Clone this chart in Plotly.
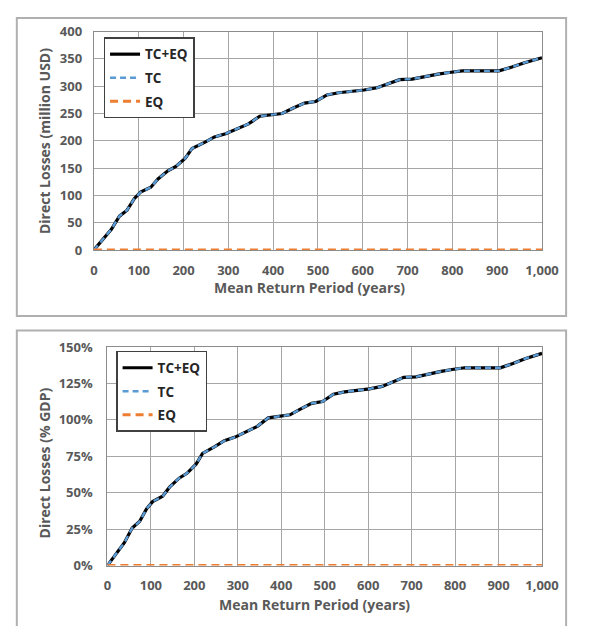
import plotly.graph_objects as go

# return periods (years)
periodo = [0, 20, 39, 57, 74, 90, 104, 127, 143, 165, 183, 204, 219, 247, 269, 294,
           322, 345, 370, 395, 420, 445, 470, 495, 520, 546, 574, 603, 632, 657,
           682, 710, 739, 768, 793, 822, 850, 875, 904, 933, 961, 1000]

# direct losses, million USD
perdas_usd = [0, 20, 38, 62, 73, 94, 106, 115, 130, 145, 153, 168, 186, 197, 207, 213,
              223, 231, 245, 248, 250, 260, 269, 272, 284, 288, 290, 293, 297, 305,
              312, 313, 318, 322, 325, 328, 328, 328, 328, 335, 343, 352]

# direct losses, % of GDP
perdas_pib = [0, 8.3, 15.7, 25.7, 30.2, 38.9, 43.9, 47.6, 53.8, 60, 63.3, 69.6, 77, 81.6,
              85.7, 88.2, 92.3, 95.6, 101.4, 102.7, 103.5, 107.6, 111.4, 112.6, 117.6,
              119.2, 120.1, 121.3, 123, 126.3, 129.2, 129.6, 131.7, 133.3, 134.6, 135.8,
              135.8, 135.8, 135.8, 138.7, 142, 145.7]

# EQ contributes nothing at any return period
eq_usd = [0] * len(periodo)
eq_pib = [0] * len(periodo)

# the page body keeps its 8px margin, so the figure is 16px smaller than the window
OFF = 8
W, H = 594 - 2 * OFF, 634 - 2 * OFF
CINZA_TXT = "#595959"
GRADE = "#a6a6a6"
FONTE = "Open Sans, sans-serif"


def px(x):
    return (x - OFF) / W


def py(y):
    return 1 - (y - OFF) / H


def series(x, total, tc, eq, xa, ya, leg):
    return [
        go.Scatter(x=x, y=total, name="TC+EQ", mode="lines", xaxis=xa, yaxis=ya,
                   legend=leg, legendgroup="a" + leg,
                   line=dict(color="black", width=3.2)),
        go.Scatter(x=x, y=tc, name="TC", mode="lines", xaxis=xa, yaxis=ya,
                   legend=leg, legendgroup="b" + leg,
                   line=dict(color="#5b9bd5", width=2.4, dash="6px,4px")),
        go.Scatter(x=x, y=eq, name="EQ", mode="lines", xaxis=xa, yaxis=ya,
                   legend=leg, legendgroup="c" + leg,
                   line=dict(color="#ed7d31", width=3, dash="8px,5px")),
    ]


fig = go.Figure()
for t in series(periodo, perdas_usd, perdas_usd, eq_usd, "x", "y", "legend"):
    fig.add_trace(t)
for t in series(periodo, perdas_pib, perdas_pib, eq_pib, "x2", "y2", "legend2"):
    fig.add_trace(t)

_TICK = dict(family=FONTE, size=13, color=CINZA_TXT, weight="bold")
_AX = dict(showgrid=True, gridcolor=GRADE, gridwidth=1.3, zeroline=False,
           showline=True, linecolor="#8c8c8c", linewidth=1.3, mirror=True,
           ticks="", tickfont=_TICK)

_LEG = dict(bgcolor="white", bordercolor="#404040", borderwidth=1.5,
            font=dict(family=FONTE, size=13.5, color="#262626", weight="bold"),
            traceorder="grouped", tracegroupgap=3, xanchor="left", yanchor="top",
            itemclick=False)

fig.update_layout(
    width=W, height=H,
    margin=dict(l=0, r=0, t=0, b=0),
    paper_bgcolor="white", plot_bgcolor="white",
    font=dict(family=FONTE, color=CINZA_TXT),
    xaxis=dict(**_AX, domain=[px(93), px(558)], range=[0, 1000], dtick=100,
               tickformat=",", anchor="y", ticklabelstandoff=8),
    yaxis=dict(**_AX, domain=[py(248), py(23)], range=[0, 400], dtick=50,
               anchor="x", ticklabelstandoff=8),
    xaxis2=dict(**_AX, domain=[px(107), px(558)], range=[0, 1000], dtick=100,
                tickformat=",", anchor="y2", ticklabelstandoff=8),
    yaxis2=dict(**_AX, domain=[py(573), py(348)], range=[0, 150], dtick=25,
                ticksuffix="%", anchor="x2", ticklabelstandoff=11),
    legend=dict(**_LEG, x=px(103), y=py(29)),
    legend2=dict(**_LEG, x=px(116), y=py(352)),
)

# panel frames
fig.add_shape(type="rect", xref="paper", yref="paper", x0=px(13), x1=px(583),
              y0=py(316), y1=py(9), line=dict(color="#b0b0b0", width=2), layer="below")
fig.add_shape(type="rect", xref="paper", yref="paper", x0=px(13), x1=px(583),
              y0=py(640), y1=py(331), line=dict(color="#b0b0b0", width=2), layer="below")

_TIT = dict(family=FONTE, size=14, color=CINZA_TXT, weight="bold")
_ANN = dict(xref="paper", yref="paper", showarrow=False, font=_TIT,
            xanchor="center", yanchor="middle")
fig.add_annotation(text="Direct Losses (million USD)", x=px(41), y=py(136),
                   textangle=-90, **_ANN)
fig.add_annotation(text="Mean Return Period (years)", x=px(317), y=py(287), **_ANN)
fig.add_annotation(text="Direct Losses (% GDP)", x=px(42), y=py(467),
                   textangle=-90, **_ANN)
fig.add_annotation(text="Mean Return Period (years)", x=px(322), y=py(613), **_ANN)

fig.write_html("out.html", config={"displayModeBar": False})
